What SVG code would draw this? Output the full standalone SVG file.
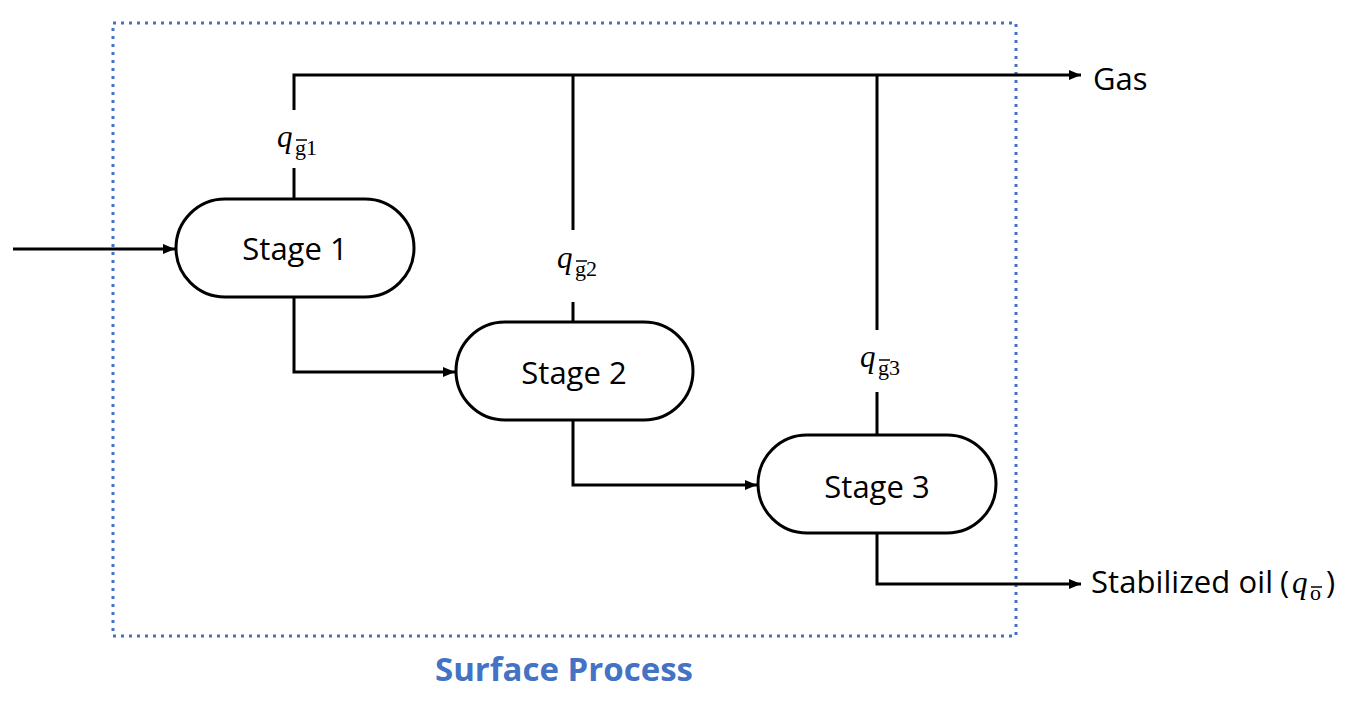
<svg xmlns="http://www.w3.org/2000/svg" width="1347" height="704" viewBox="0 0 1347 704">
<style>
.ln{fill:none;stroke:#000;stroke-width:3}
.nd{fill:#fff;stroke:#000;stroke-width:3}
.t{font-family:"Open Sans","Noto Sans",sans-serif;font-size:31px;fill:#000}
.q{font-family:"Liberation Serif",serif;font-style:italic;font-size:31px;fill:#000}
.s{font-family:"Liberation Serif",serif;font-size:22px;fill:#000}
.ol{stroke:#000;stroke-width:1.5}
</style>
<defs>
<marker id="ah" markerWidth="12" markerHeight="10" refX="12" refY="5" orient="auto" markerUnits="userSpaceOnUse">
<path d="M0,0 L12,5 L0,10 z" fill="#000"/>
</marker>
</defs>
<rect x="113" y="23" width="903" height="613" fill="none" stroke="#4472C4" stroke-width="3" stroke-dasharray="3 5"/>
<g id="connectors">
<path class="ln" d="M294,110 V75 H1081" marker-end="url(#ah)"/>
<path class="ln" d="M294,168 V199"/>
<path class="ln" d="M573,75 V230"/>
<path class="ln" d="M573,302 V322"/>
<path class="ln" d="M877,75 V330"/>
<path class="ln" d="M877,392 V435"/>
<path class="ln" d="M13,249 H175" marker-end="url(#ah)"/>
<path class="ln" d="M294,297 V372 H455" marker-end="url(#ah)"/>
<path class="ln" d="M573,420 V485 H757" marker-end="url(#ah)"/>
<path class="ln" d="M877,533 V584 H1081" marker-end="url(#ah)"/>
</g>
<g id="stage1">
<rect class="nd" x="176" y="199" width="238" height="98" rx="49"/>
<text class="t" x="295" y="260" text-anchor="middle">Stage 1</text>
</g>
<g id="stage2">
<rect class="nd" x="456" y="322" width="237" height="98" rx="49"/>
<text class="t" x="574" y="384" text-anchor="middle">Stage 2</text>
</g>
<g id="stage3">
<rect class="nd" x="758" y="435" width="238" height="98" rx="49"/>
<text class="t" x="877" y="498" text-anchor="middle">Stage 3</text>
</g>
<g id="qg1">
<text class="q" x="277" y="147">q</text>
<text class="s" x="295" y="155">g1</text>
<line class="ol" x1="296" y1="140" x2="307" y2="140"/>
</g>
<g id="qg2">
<text class="q" x="557" y="268">q</text>
<text class="s" x="575" y="276">g2</text>
<line class="ol" x1="576" y1="261" x2="587" y2="261"/>
</g>
<g id="qg3">
<text class="q" x="860" y="367">q</text>
<text class="s" x="878" y="375">g3</text>
<line class="ol" x1="879" y1="360" x2="890" y2="360"/>
</g>
<g id="gas">
<text class="t" x="1093" y="90">Gas</text>
</g>
<g id="oil">
<text class="t" x="1091" y="593" textLength="182" lengthAdjust="spacing">Stabilized oil</text>
<text class="t" x="1280" y="593">(</text>
<text class="q" x="1292" y="593">q</text>
<text class="s" x="1310" y="600">o</text>
<line class="ol" x1="1311" y1="587" x2="1322" y2="587"/>
<text class="t" x="1326" y="593">)</text>
</g>
<text x="564" y="681" text-anchor="middle" font-family="'Open Sans','Noto Sans',sans-serif" font-weight="bold" font-size="33" fill="#4472C4">Surface Process</text>
</svg>
